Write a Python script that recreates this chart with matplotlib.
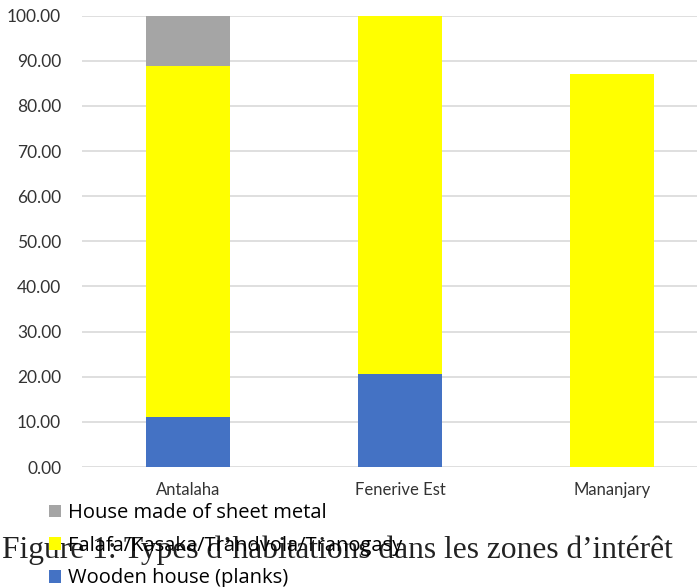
import numpy as np
import matplotlib
matplotlib.use("Agg")
import matplotlib.pyplot as plt

# Données (%)
zones = ["Antalaha", "Fenerive Est", "Mananjary"]
bois = [11.1, 20.5, 0.0]          # Wooden house (planks)
falafa = [77.8, 79.5, 87.0]       # Falafa/Kasaka/Trandvola/Tranogasy
tole = [11.1, 0.0, 0.0]           # House made of sheet metal

lbl_bois = "Wooden house (planks)"
lbl_falafa = "Falafa/Kasaka/Trandvola/Tranogasy"
lbl_tole = "House made of sheet metal"
yticks = np.arange(0, 101, 10)

fig = plt.figure(figsize=(6.97, 5.87), dpi=100)
# l'axe dépasse à droite (image recadrée dans l'original)
ax = fig.add_axes([82 / 697, 1 - 467 / 587, 636 / 697, 451.3 / 587])

x = np.arange(len(zones))
w = 0.395
b1 = ax.bar(x, bois, width=w, color="#4472c4", label=lbl_bois, zorder=2)
b2 = ax.bar(x, falafa, width=w, bottom=bois, color="#ffff00", label=lbl_falafa, zorder=2)
bas = np.array(bois) + np.array(falafa)
b3 = ax.bar(x, tole, width=w, bottom=bas, color="#a5a5a5", label=lbl_tole, zorder=2)

ax.set_xlim(-0.5, 2.5)
ax.set_ylim(0, 100)
ax.set_yticks(yticks)
ax.set_yticklabels([f"{v:.2f}" for v in yticks], fontfamily="Lato", fontsize=12.5, color="#333333")
ax.set_xticks(x)
ax.set_xticklabels(zones, fontfamily="Lato", fontsize=12, color="#333333")
ax.tick_params(length=0, axis="y", pad=15)
ax.tick_params(length=0, axis="x", pad=11)
ax.grid(axis="y", color="#d9d9d9", linewidth=1.2, zorder=0)
for s in ax.spines.values():
    s.set_visible(False)

leg = fig.legend(handles=[b3, b2, b1], loc="upper left",
                 bbox_to_anchor=(41 / 697, 1 - 495 / 587),
                 frameon=False, prop={"family": "Open Sans", "size": 14.5},
                 handlelength=0.6, handleheight=0.6, handletextpad=0.35,
                 labelspacing=0.63, borderaxespad=0)

fig.text(337 / 697, 1 - 558 / 587, "Figure 1: Types d’habitations dans les zones d’intérêt",
         ha="center", va="baseline", fontfamily="Liberation Serif", fontsize=22.7, color="#222222")

plt.savefig("out.png", dpi=100)
